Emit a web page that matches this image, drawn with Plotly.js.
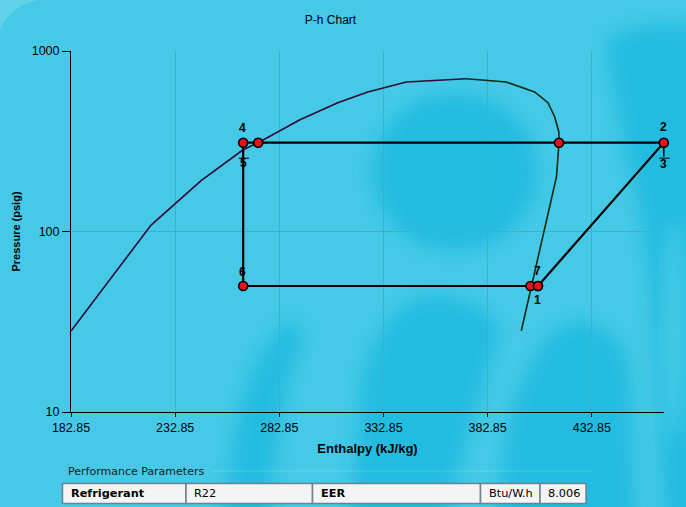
<!DOCTYPE html>
<html>
<head>
<meta charset="utf-8">
<script src="https://cdn.plot.ly/plotly-3.0.1.min.js"></script>
<style>
  html, body { margin: 0; padding: 0; background: #45c9e7; }
  #chart { width: 686px; height: 507px; }
</style>
</head>
<body>
<div id="chart"></div>
<script>
// ---------------- data ----------------
// Saturation dome, liquid side (enthalpy kJ/kg, pressure psig)
const hLiquid = [182.85, 221.3, 245.3, 265.3, 272.7, 287.7, 292.5, 310.9, 325.3, 343.8, 363.0, 372.6];
const pLiquid = [28.1, 108.6, 191.1, 282.8, 310.5, 389, 414.8, 517.2, 592.9, 673.4, 696.8, 702.2];
// Saturation dome, vapour side
const hVapour = [372.6, 391.8, 405.4, 411.8, 415.0, 417.0, 417.1, 415.9, 399.0];
const pVapour = [702.2, 673.4, 592.9, 517.2, 432.6, 357.2, 310.5, 201.2, 28.2];
// Cycle state points
const stateLabels = ['1', '2', '3', '4', '5', '6', '7'];
const stateH = [407.0, 467.4, 467.4, 265.5, 265.5, 265.5, 403.4];
const stateP = [49.9, 310.5, 310.5, 310.5, 310.5, 49.9, 49.9];
// Saturation crossings on the high-pressure line (vapour, liquid)
const satH = [417.1, 272.7];
const satP = [310.5, 310.5];
// Axis ticks
const xTickVals = [182.85, 232.85, 282.85, 332.85, 382.85, 432.85];
const yTickVals = [10, 100, 1000];
// Performance table
const tableCells = ['Refrigerant', 'R22', 'EER', 'Btu/W.h', '8.006'];
const tableBold = [true, false, true, false, false];

// ---------------- layout helpers ----------------
const W = 686, H = 507;
const M = {l: 71, r: 22, t: 51, b: 95};
const PW = W - M.l - M.r, PH = H - M.t - M.b;
const px2x = px => (px - M.l) / PW;
const py2y = py => (H - M.b - py) / PH;

const shapes = [];
const annotations = [];

// soft blurred background decoration (inline SVG, no network)
const bgSvg =
  `<svg xmlns="http://www.w3.org/2000/svg" width="${W}" height="${H}" viewBox="0 0 ${W} ${H}">` +
  `<defs><filter id="b" x="-20%" y="-20%" width="140%" height="140%"><feGaussianBlur stdDeviation="9"/></filter></defs>` +
  `<g filter="url(#b)" fill="#20bce0">` +
  `<ellipse cx="455" cy="172" rx="82" ry="78"/>` +
  `<path d="M222 530 L236 430 Q252 350 292 318 L302 338 Q276 400 268 530 Z"/>` +
  `<path d="M350 530 L362 385 Q380 305 430 296 Q480 296 500 330 L472 420 L442 530 Z"/>` +
  `<path d="M495 530 L508 430 Q530 340 570 322 Q610 320 628 360 L636 530 Z"/>` +
  `<path d="M606 40 Q650 18 700 28 L700 530 L664 530 Q658 300 640 210 Q618 120 606 40 Z"/>` +
  `</g>` +
  `<g filter="url(#b)" fill="#46cae8">` +
  `<ellipse cx="674" cy="330" rx="12" ry="110"/>` +
  `</g>` +
  `<path d="M0 30 Q10 5 40 0 L0 0 Z" fill="#7fdcef" opacity="0.5"/>` +
  `</svg>`;
const bgImage = {source: 'data:image/svg+xml;charset=utf-8,' + encodeURIComponent(bgSvg),
  xref: 'paper', yref: 'paper', x: px2x(0), y: py2y(0), sizex: W / PW, sizey: H / PH,
  xanchor: 'left', yanchor: 'top', sizing: 'stretch', layer: 'below'};

// point labels
const labelShift = {'1': [0, -14], '2': [0, 16], '3': [0, -21], '4': [-1, 15], '5': [0, -20], '6': [-1, 14], '7': [7, 15]};
stateLabels.forEach((lab, i) => {
  annotations.push({x: stateH[i], y: Math.log10(stateP[i]), xref: 'x', yref: 'y', text: lab,
    showarrow: false, xshift: labelShift[lab][0], yshift: labelShift[lab][1],
    font: {family: 'Liberation Sans, Arial, sans-serif', size: 12, color: '#000', weight: 'bold'}});
});
// little leader marks under labels 3 and 5 (drawn as annotation arrows)
['3', '5'].forEach(lab => {
  const i = stateLabels.indexOf(lab);
  const ya = Math.log10(stateP[i]);
  annotations.push({x: stateH[i], y: ya, xref: 'x', yref: 'y', text: '', showarrow: true,
    arrowhead: 0, arrowwidth: 1.5, arrowcolor: '#000', ax: 0, ay: 15.5, standoff: 4, startstandoff: 0,
    font: {size: 1}});
  annotations.push({x: stateH[i], y: ya, xref: 'x', yref: 'y', text: '', showarrow: true,
    arrowhead: 0, arrowwidth: 1, arrowcolor: '#000', ax: -12, ay: 0, xshift: 6, yshift: -15.5,
    standoff: 0, startstandoff: 0, font: {size: 1}});
});

// performance parameters box
annotations.push({xref: 'paper', yref: 'paper', x: px2x(66), y: py2y(471), xanchor: 'left', yanchor: 'middle',
  text: 'Performance Parameters', showarrow: false,
  font: {family: 'DejaVu Sans, Verdana, sans-serif', size: 11, color: '#1a1a1a'}});
shapes.push({type: 'path', xref: 'paper', yref: 'paper', layer: 'below',
  path: `M ${px2x(211)} ${py2y(471)} L ${px2x(592)} ${py2y(471)}`,
  line: {color: 'rgba(255,255,255,0.18)', width: 1}});
const colEdges = [62.5, 186, 312.5, 480.5, 540, 586];
const rowTop = 483.5, rowBot = 503.5;
tableCells.forEach((txt, i) => {
  shapes.push({type: 'rect', xref: 'paper', yref: 'paper',
    x0: px2x(colEdges[i]), x1: px2x(colEdges[i + 1]), y0: py2y(rowBot), y1: py2y(rowTop),
    fillcolor: '#f4f4f4', line: {color: '#6f8189', width: 1.5}});
  annotations.push({xref: 'paper', yref: 'paper', x: px2x(colEdges[i] + 6), y: py2y((rowTop + rowBot) / 2),
    xanchor: 'left', yanchor: 'middle', showarrow: false, text: txt,
    font: {family: 'DejaVu Sans, Verdana, sans-serif', size: 11.3, color: '#000', weight: tableBold[i] ? 'bold' : 'normal'}});
});

// ---------------- traces ----------------
const cycleH = [stateH[0], stateH[1], satH[0], satH[1], stateH[3], stateH[5], stateH[6], stateH[0]];
const cycleP = [stateP[0], stateP[1], satP[0], satP[1], stateP[3], stateP[5], stateP[6], stateP[0]];

const traces = [
  {x: hLiquid, y: pLiquid, mode: 'lines', line: {color: '#2e0a34', width: 1.6}, hoverinfo: 'skip'},
  {x: hVapour, y: pVapour, mode: 'lines', line: {color: '#0b2a0f', width: 1.6}, hoverinfo: 'skip'},
  {x: cycleH, y: cycleP, mode: 'lines+markers', cliponaxis: false,
    line: {color: '#000', width: 2.2},
    marker: {size: 9, color: '#e5131b', line: {color: '#000', width: 1.6}}}
];

const tickFont = {family: 'Liberation Sans, Arial, sans-serif', size: 12.5, color: '#000'};
const layout = {
  width: W, height: H,
  margin: M,
  paper_bgcolor: '#45c9e7',
  plot_bgcolor: 'rgba(0,0,0,0)',
  showlegend: false,
  images: [bgImage],
  title: {text: 'P-h Chart', x: 330.5 / W, xref: 'container', xanchor: 'center',
    y: 1 - 20 / H, yref: 'container', yanchor: 'middle',
    font: {family: 'Liberation Sans, Arial, sans-serif', size: 12, color: '#000'}},
  xaxis: {
    range: [182.85, 467.5], tickvals: xTickVals, ticktext: xTickVals.map(v => v.toFixed(2)),
    showline: true, linecolor: '#000', linewidth: 1, ticks: 'outside', ticklen: 4, tickcolor: '#000',
    showgrid: true, gridcolor: '#39b2cc', gridwidth: 1, zeroline: false, tickfont: tickFont,
    title: {text: 'Enthalpy (kJ/kg)', standoff: 9,
      font: {family: 'Liberation Sans, Arial, sans-serif', size: 13, color: '#000', weight: 'bold'}}
  },
  yaxis: {
    type: 'log', range: [1, 3], tickvals: yTickVals, ticktext: yTickVals.map(String),
    showline: true, linecolor: '#000', linewidth: 1, ticks: 'outside', ticklen: 8, tickcolor: '#000',
    showgrid: true, gridcolor: '#39b2cc', gridwidth: 1, zeroline: false, tickfont: tickFont,
    title: {text: 'Pressure (psig)', standoff: 8,
      font: {family: 'Liberation Sans, Arial, sans-serif', size: 11, color: '#000', weight: 'bold'}}
  },
  shapes: shapes,
  annotations: annotations
};

Plotly.newPlot('chart', traces, layout, {displayModeBar: false, staticPlot: true});
</script>
</body>
</html>
